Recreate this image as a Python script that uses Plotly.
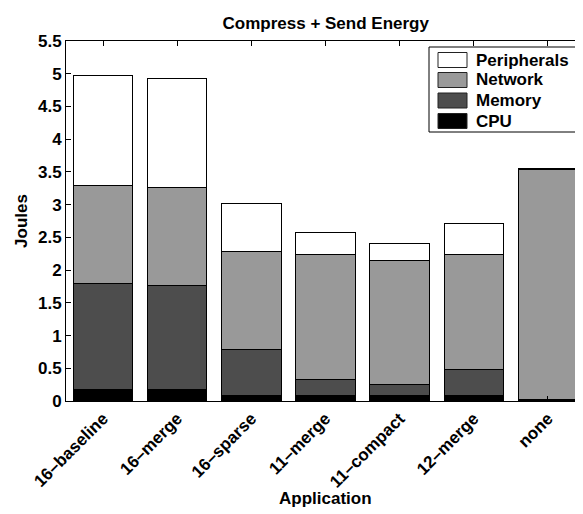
import plotly.graph_objects as go

applications = ["16–baseline", "16–merge", "16–sparse", "11–merge", "11–compact", "12–merge", "none"]

cpu = [0.17, 0.17, 0.09, 0.09, 0.08, 0.09, 0.01]
memory = [1.62, 1.59, 0.69, 0.245, 0.175, 0.39, 0.015]
network = [1.50, 1.50, 1.50, 1.905, 1.895, 1.765, 3.51]
peripherals = [1.69, 1.66, 0.74, 0.34, 0.26, 0.465, 0.02]

y_ticks = [0, 0.5, 1, 1.5, 2, 2.5, 3, 3.5, 4, 4.5, 5, 5.5]

FONT = "Liberation Sans, Arial, Helvetica, sans-serif"
FS = 17
W, H = 583, 514
ML, MR, MT, MB = 58, 6, 33, 121
PW, PH = W - ML - MR, H - MT - MB

series = [
    ("CPU", cpu, "#000000"),
    ("Memory", memory, "#4d4d4d"),
    ("Network", network, "#999999"),
    ("Peripherals", peripherals, "#ffffff"),
]

fig = go.Figure()
for name, vals, color in series:
    fig.add_trace(go.Bar(
        x=applications, y=vals, name=name, showlegend=False,
        marker=dict(color=color, line=dict(color="#000000", width=1)),
    ))


def px_x(px):
    return (px - ML) / PW


def px_y(py):
    return (H - MB - py) / PH


# legend box (MATLAB style) built from the series list
shapes = [dict(type="rect", xref="paper", yref="paper",
               x0=px_x(421), x1=px_x(571), y0=px_y(124), y1=px_y(39),
               fillcolor="white", line=dict(color="black", width=1), layer="above")]
annotations = []
row_centers = [52, 72, 92.5, 113]
for (name, _, color), cy in zip(reversed(series), row_centers):
    shapes.append(dict(type="rect", xref="paper", yref="paper",
                       x0=px_x(430), x1=px_x(459), y0=px_y(cy + 7.5), y1=px_y(cy - 7.5),
                       fillcolor=color, line=dict(color="#222222", width=1), layer="above"))
    annotations.append(dict(xref="paper", yref="paper", x=px_x(466), y=px_y(cy),
                            xanchor="left", yanchor="middle", showarrow=False,
                            text=name, font=dict(family=FONT, size=FS, weight="bold", color="black")))

# x-axis title placed like the reference
annotations.append(dict(xref="paper", yref="paper", x=0.5, y=px_y(490),
                        xanchor="center", yanchor="middle", showarrow=False,
                        text="Application", font=dict(family=FONT, size=FS, weight="bold", color="black")))

fig.update_layout(
    width=W, height=H,
    barmode="stack", bargap=0.2,
    plot_bgcolor="white", paper_bgcolor="white",
    margin=dict(l=ML, r=MR, t=MT, b=MB, autoexpand=False),
    font=dict(family=FONT, size=FS, color="black", weight="bold"),
    title=dict(text="Compress + Send Energy", x=0.545, xanchor="center",
               y=0.97, yanchor="middle",
               font=dict(family=FONT, size=FS, weight="bold")),
    shapes=shapes,
    annotations=annotations,
    showlegend=False,
)

fig.update_xaxes(
    showline=True, linecolor="black", linewidth=1, mirror="ticks",
    ticks="inside", ticklen=5, tickcolor="black",
    tickangle=-45,
    tickfont=dict(family=FONT, size=FS, weight="bold"),
    automargin=False,
)
fig.update_yaxes(
    range=[0, 5.5], tickvals=y_ticks, ticktext=[f"{v:g}" for v in y_ticks],
    showline=True, linecolor="black", linewidth=1, mirror="ticks",
    ticks="inside", ticklen=5, tickcolor="black",
    showgrid=False, zeroline=False,
    tickfont=dict(family=FONT, size=FS, weight="bold"),
    title=dict(text="Joules", font=dict(family=FONT, size=FS, weight="bold"), standoff=6),
    automargin=False,
)

fig.write_html("out.html")
